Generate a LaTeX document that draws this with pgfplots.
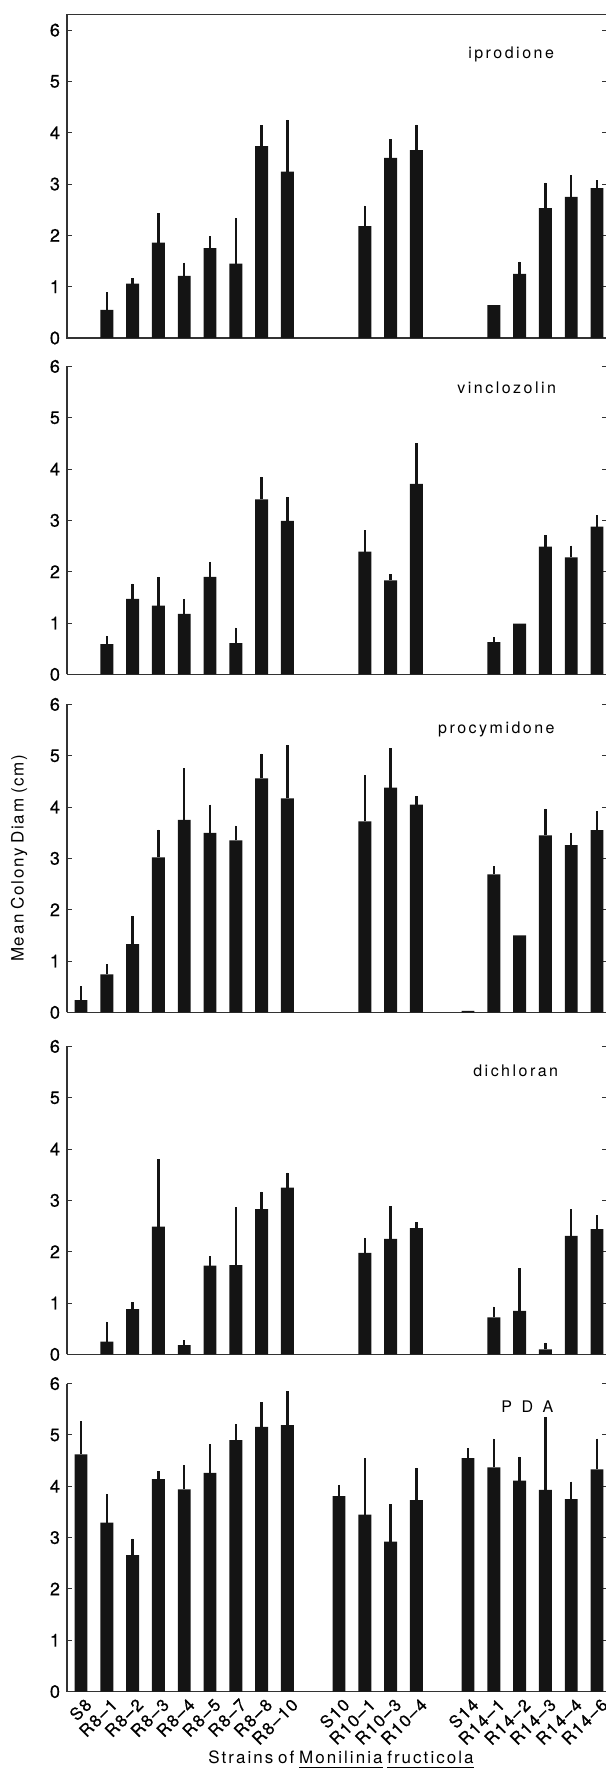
\documentclass[border=0pt]{standalone}
\usepackage{fontspec}
\setmainfont{TeX Gyre Heros}
\newfontfamily\tickfont{TeX Gyre Heros}[FakeBold=0.6]
\usepackage{pgfplots}
\usepackage{pgfplotstable}
\pgfplotsset{compat=1.18}

% letter-spaced text (the reference is set with wide tracking)
\def\lsk{0.155em}
\makeatletter
\DeclareRobustCommand\ls[1]{\ls@a#1\relax}
\def\ls@a#1#2{#1\ifx\relax#2\expandafter\@gobble\else\kern\lsk\expandafter\ls@a\fi#2}
\makeatother

% x: 0..8 = S8..R8-10, 10..13 = S10..R10-4, 15..20 = S14..R14-6
\pgfplotstableread{
x y e
1 0.55 0.34
2 1.06 0.10
3 1.86 0.57
4 1.21 0.26
5 1.75 0.23
6 1.45 0.89
7 3.74 0.41
8 3.24 1.01
11 2.18 0.40
12 3.51 0.36
13 3.66 0.50
16 0.64 0
17 1.25 0.24
18 2.53 0.50
19 2.75 0.42
20 2.92 0.15
}\iprodione
\pgfplotstableread{
x y e
1 0.59 0.16
2 1.47 0.30
3 1.34 0.56
4 1.18 0.29
5 1.90 0.29
6 0.61 0.30
7 3.41 0.44
8 2.99 0.47
11 2.39 0.42
12 1.83 0.12
13 3.71 0.79
16 0.63 0.09
17 0.99 0
18 2.49 0.23
19 2.28 0.23
20 2.88 0.22
}\vinclozolin
\pgfplotstableread{
x y e
0 0.24 0.27
1 0.74 0.20
2 1.33 0.55
3 3.02 0.54
4 3.75 1.01
5 3.50 0.55
6 3.35 0.29
7 4.56 0.48
8 4.17 1.04
11 3.72 0.90
12 4.38 0.77
13 4.05 0.17
15 0.03 0
16 2.69 0.16
17 1.50 0
18 3.45 0.52
19 3.26 0.24
20 3.55 0.37
}\procymidone
\pgfplotstableread{
x y e
1 0.25 0.39
2 0.88 0.14
3 2.49 1.31
4 0.18 0.10
5 1.73 0.18
6 1.74 1.13
7 2.83 0.34
8 3.25 0.29
11 1.98 0.29
12 2.25 0.64
13 2.46 0.12
16 0.72 0.21
17 0.85 0.83
18 0.10 0.13
19 2.31 0.52
20 2.44 0.27
}\dichloran
\pgfplotstableread{
x y e
0 4.62 0.65
1 3.29 0.56
2 2.66 0.32
3 4.14 0.15
4 3.94 0.47
5 4.26 0.56
6 4.90 0.31
7 5.16 0.48
8 5.19 0.66
10 3.81 0.22
11 3.45 1.10
12 2.92 0.73
13 3.73 0.63
15 4.55 0.19
16 4.37 0.56
17 4.11 0.47
18 3.93 1.42
19 3.75 0.34
20 4.33 0.60
}\pda

\pgfplotsset{
  panel/.style={
    scale only axis, width=270.2pt, height=154pt,
    xmin=-0.543, xmax=20.403, ymin=0, ymax=6,
    ytick={0,...,6}, xtick=\empty,
    axis x line*=bottom, axis y line*=box,
    axis line style={-, line width=0.6pt, black!80},
    major tick length=2.5pt, tick style={line width=0.5pt, black!80},
    tick align=inside,
    yticklabel style={font=\tickfont\fontsize{9}{10}\selectfont},
    /pgf/number format/assume math mode=true,
    clip=false,
  },
  bars/.style={
    ybar, bar width=0.5, bar shift=0pt, fill=black!92, draw=none,
    error bars/.cd, y dir=plus, y explicit, error mark=none,
    error bar style={line width=1.2pt, black!92},
  },
}
\tikzset{lab/.style={font=\fontsize{8}{9}\selectfont, anchor=center}}

\begin{document}
\begin{tikzpicture}[font=\fontsize{8.5}{10}\selectfont]
\useasboundingbox (-33.5pt,0pt) rectangle (269pt,-885pt);

\begin{axis}[panel, at={(0pt,-169pt)}, anchor=south west,
  height=161.9pt, ymax=6.31,
  axis x line*=box]
\addplot[bars] table[x=x, y=y, y error=e] {\iprodione};
\node[lab] at (axis cs:16.67,5.53) {\ls{iprodione}};
\end{axis}

\begin{axis}[panel, at={(0pt,-337.2pt)}, anchor=south west]
\addplot[bars] table[x=x, y=y, y error=e] {\vinclozolin};
\node[lab] at (axis cs:16.5,5.58) {\ls{vinclozolin}};
\end{axis}

\begin{axis}[panel, at={(0pt,-506.2pt)}, anchor=south west,
  ylabel={\def\lsk{0.1em}\ls{Mean} \ls{Colony} \ls{Diam} \ls{(cm)}},
  ylabel style={at={(axis description cs:-0.0888,0.5)}, anchor=center}]
\addplot[bars] table[x=x, y=y, y error=e] {\procymidone};
\node[lab] at (axis cs:16.1,5.52) {\ls{procymidone}};
\end{axis}

\begin{axis}[panel, at={(0pt,-677.2pt)}, anchor=south west]
\addplot[bars] table[x=x, y=y, y error=e] {\dichloran};
\node[lab] at (axis cs:16.85,5.52) {\ls{dichloran}};
\end{axis}

\begin{axis}[panel, at={(0pt,-845.8pt)}, anchor=south west,
  xtick={0,1,2,3,4,5,6,7,8,10,11,12,13,15,16,17,18,19,20},
  xticklabels={\ls{S8},\ls{R8–1},\ls{R8–2},\ls{R8–3},\ls{R8–4},\ls{R8–5},
    \ls{R8–7},\ls{R8–8},\ls{R8–10},\ls{S10},\ls{R10–1},\ls{R10–3},\ls{R10–4},
    \ls{S14},\ls{R14–1},\ls{R14–2},\ls{R14–3},\ls{R14–4},\ls{R14–6}},
  x tick style={draw=none},
  xticklabel style={font=\tickfont\fontsize{8.5}{10}\selectfont\def\lsk{0.09em},
    rotate=45, anchor=south east, inner sep=0pt, yshift=-9.6pt, xshift=-0.8pt},
  xlabel={\def\lsk{0.12em}\ls{Strains} \ls{of} \underline{\ls{Monilinia}} \underline{\ls{fructicola}}},
  xlabel style={at={(axis description cs:0.507,-0.2347)}, anchor=base}]
\addplot[bars] table[x=x, y=y, y error=e] {\pda};
\node[lab] at (axis cs:17.3,5.56) {\ls{P\ D\ A}};
\end{axis}
\end{tikzpicture}
\end{document}
